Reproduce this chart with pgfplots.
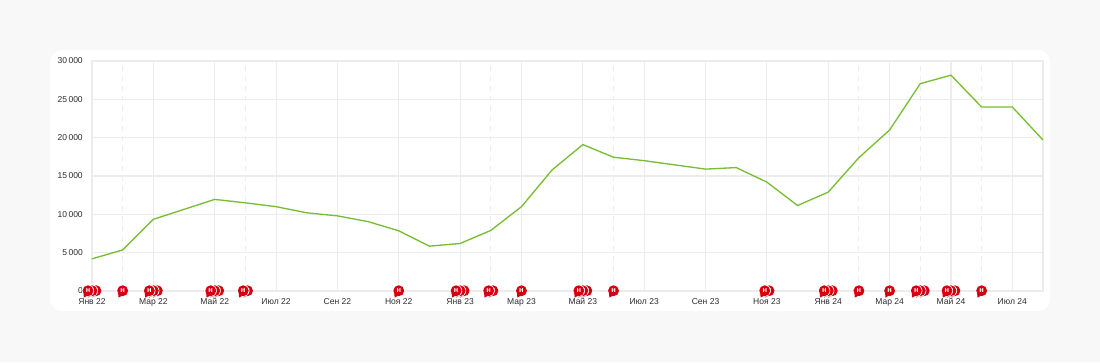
\documentclass[border=0pt]{standalone}
\usepackage{pgfplots}
\pgfplotsset{compat=1.18}
\usepackage{fontspec}
\setmainfont{Liberation Sans}
\definecolor{pagebg}{HTML}{F8F8F8}
\definecolor{gridc}{HTML}{ECECEC}
\definecolor{linec}{HTML}{78BE35}
\definecolor{bubred}{HTML}{D4000F}
\definecolor{labc}{HTML}{2E2E2E}
\pgfdeclareplotmark{bubble}{%
  \pgfsetfillcolor{white}%
  \pgfpathcircle{\pgfpoint{0pt}{0.2pt}}{4.55pt}%
  \pgfusepath{fill}%
  \pgfsetfillcolor{bubred}%
  \pgfpathcircle{\pgfpoint{0pt}{0.2pt}}{4.1pt}%
  \pgfusepath{fill}%
  \pgfpathmoveto{\pgfpoint{-3.4pt}{-1.5pt}}%
  \pgfpathlineto{\pgfpoint{-3.1pt}{-4.9pt}}%
  \pgfpathlineto{\pgfpoint{-0.6pt}{-3.6pt}}%
  \pgfpathclose
  \pgfusepath{fill}%
  \pgftext[x=0pt,y=0.2pt]{\color{white}\fontsize{5.6pt}{5.6pt}\selectfont\bfseries н}%
}
\begin{document}
\begin{tikzpicture}
\fill[pagebg] (0,0) rectangle (825pt,271.5pt);
\fill[white,rounded corners=9pt] (37.5pt,38.25pt) rectangle (787.5pt,234pt);
\begin{axis}[
  at={(69pt,53.25pt)}, anchor=south west,
  scale only axis, width=713.25pt, height=172.5pt,
  xmin=0, xmax=31, ymin=0, ymax=30000,
  clip=false,
  axis line style={gridc,line width=1.1pt},
  xtick={0,2,...,30},
  xticklabels={Янв 22,Мар 22,Май 22,Июл 22,Сен 22,Ноя 22,Янв 23,Мар 23,Май 23,Июл 23,Сен 23,Ноя 23,Янв 24,Мар 24,Май 24,Июл 24},
  ytick={0,5000,...,30000},
  extra x ticks={1,5,13,17,25,27,29},
  extra x tick labels={},
  extra x tick style={grid style={gridc,line width=0.8pt,dash pattern=on 4pt off 3.5pt}},
  grid=both,
  major grid style={gridc,line width=0.8pt},
  tick style={draw=none},
  major tick length=0pt,
  tick label style={font=\fontsize{6.4pt}{7pt}\selectfont,text=labc},
  xticklabel style={yshift=-1.9pt},
  yticklabel style={xshift=-3.4pt},
  /pgf/number format/assume math mode=true,
  /pgf/number format/1000 sep={\,},
  scaled y ticks=false,
]
\addplot[linec,line width=1pt,sharp plot] coordinates {
(0,4200)(1,5350)(2,9350)(3,10650)(4,11950)(5,11500)(6,11000)(7,10200)
(8,9800)(9,9050)(10,7850)(11,5850)(12,6200)(13,7900)(14,11000)(15,15800)
(16,19100)(17,17450)(18,17000)(19,16450)(20,15900)(21,16100)(22,14200)(23,11150)
(24,12900)(25,17400)(26,21000)(27,27050)(28,28150)(29,24000)(30,24000)(31,19700)
};
\addplot[only marks,mark=bubble] coordinates {
(0.13,0)(0,0)(-0.13,0)
(1,0)
(2.13,0)(2,0)(1.87,0)
(4.13,0)(4,0)(3.87,0)
(5.07,0)(4.93,0)
(10,0)
(12.13,0)(12,0)(11.87,0)
(13.07,0)(12.93,0)
(14,0)
(16.13,0)(16,0)(15.87,0)
(17,0)
(22.07,0)(21.93,0)
(24.13,0)(24,0)(23.87,0)
(25,0)
(26,0)
(27.13,0)(27,0)(26.87,0)
(28.13,0)(28,0)(27.87,0)
(29,0)
};
\end{axis}
\end{tikzpicture}
\end{document}
